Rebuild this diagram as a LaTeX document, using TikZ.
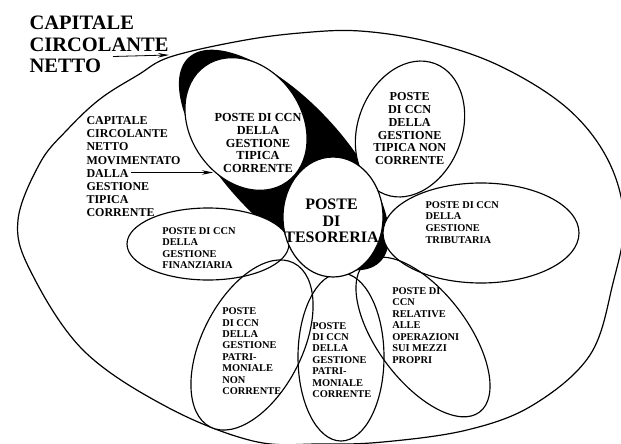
\documentclass[tikz,border=0pt]{standalone}
\usepackage{fontspec}
\setmainfont{Liberation Serif}
\usetikzlibrary{arrows.meta}
\newcommand{\myell}[6]{\path[#1, rotate around={#6:(#2,#3)}] (#2,#3) ellipse [x radius=#4, y radius=#5];}
\begin{document}
\begin{tikzpicture}[x=1pt,y=-1pt,line width=1.1pt,
  petalfill/.style={fill=white},
  petalline/.style={draw=black,line width=1.15pt},
  lbl/.style={inner sep=0pt,align=left,anchor=north west,font=\bfseries\fontsize{10.4}{11.5}\selectfont},
  clbl/.style={inner sep=0pt,align=center,anchor=north},
  arr/.style={line width=0.8pt,-{Stealth[length=11pt,width=4.5pt]}}]
\useasboundingbox (0,0) rectangle (621,444);
\fill[white] (0,0) rectangle (621,444);
% outer shape
\draw[line width=1.2pt] plot[smooth cycle,tension=0.6] coordinates {
 (18,220) (40,163) (67,130) (100,99) (138,75) (170,57) (240,41) (300,33) (360,31)
 (430,42) (500,66) (567,108) (608,160) (624,220) (613,283) (590,355) (533,405)
 (467,430) (383,442) (320,444) (253,441) (167,407) (83,350) (30,270)};
% petal under the black shape
\myell{petalfill}{423}{337}{45}{94}{37}
% black shape
\myell{fill=black}{284}{160}{140}{60}{-47}
% white petals
\myell{petalfill}{246}{124}{71}{55.5}{-55}
\myell{petalfill}{410}{129}{52}{70}{-21}
\myell{petalfill}{481}{233}{98}{50}{0}
\myell{petalfill}{208}{244}{81}{36}{0}
\myell{petalfill}{252}{345}{50}{92}{-27}
\myell{petalfill}{341}{357}{43}{84}{0}
% outlines
\myell{petalline}{423}{337}{45}{94}{37}
\myell{petalline}{246}{124}{71}{55.5}{-55}
\myell{petalline}{410}{129}{52}{70}{-21}
\myell{petalline}{481}{233}{98}{50}{0}
\myell{petalline}{208}{244}{81}{36}{0}
\myell{petalline}{252}{345}{50}{92}{-27}
\myell{petalline}{341}{357}{43}{84}{0}
% central circle
\myell{fill=white,draw=black,line width=1.2pt}{333}{217}{50}{60}{0}
% texts
\node[lbl,font=\bfseries\fontsize{20.5}{21.7}\selectfont] (title) at (29,15.2) {CAPITALE\\CIRCOLANTE\\NETTO};
\node[lbl,font=\bfseries\fontsize{12}{13.2}\selectfont] (ccnm) at (86,116) {CAPITALE\\CIRCOLANTE\\NETTO\\MOVIMENTATO\\DALLA\\GESTIONE\\TIPICA\\CORRENTE};
\node[clbl,font=\bfseries\fontsize{12.3}{12.9}\selectfont] (tc) at (258,112.6) {POSTE DI CCN\\DELLA\\GESTIONE\\TIPICA\\CORRENTE};
\node[clbl,font=\bfseries\fontsize{12.2}{12.9}\selectfont] (tnc) at (409.7,91.7) {POSTE\\DI CCN\\DELLA\\GESTIONE\\TIPICA NON\\CORRENTE};
\node[clbl,font=\bfseries\fontsize{16}{16.5}\selectfont] (tes) at (331.5,198.7) {POSTE\\DI\\TESORERIA};
\node[lbl,font=\bfseries\fontsize{10.4}{11.6}\selectfont] (trib) at (425,200.9) {POSTE DI CCN\\DELLA\\GESTIONE\\TRIBUTARIA};
\node[lbl,font=\bfseries\fontsize{10.4}{11.6}\selectfont] (fin) at (161.7,226.6) {POSTE DI CCN\\DELLA\\GESTIONE\\FINANZIARIA};
\node[lbl] (mezzi) at (391.7,286.6) {POSTE DI\\CCN\\RELATIVE\\ALLE\\OPERAZIONI\\SUI MEZZI\\PROPRI};
\node[lbl,font=\bfseries\fontsize{10.4}{11.4}\selectfont] (pc) at (311.7,321.6) {POSTE\\DI CCN\\DELLA\\GESTIONE\\PATRI-\\MONIALE\\CORRENTE};
\node[lbl,font=\bfseries\fontsize{10.4}{11.4}\selectfont] (pnc) at (221.7,307.3) {POSTE\\DI CCN\\DELLA\\GESTIONE\\PATRI-\\MONIALE\\NON\\CORRENTE};
% arrows
\coordinate (a1s) at (113,56.5);
\coordinate (a1e) at (169,55);
\coordinate (a2s) at (131,172.5);
\coordinate (a2e) at (213,172.5);
\draw[arr] (a1s) -- (a1e);
\draw[arr] (a2s) -- (a2e);
\end{tikzpicture}
\end{document}
